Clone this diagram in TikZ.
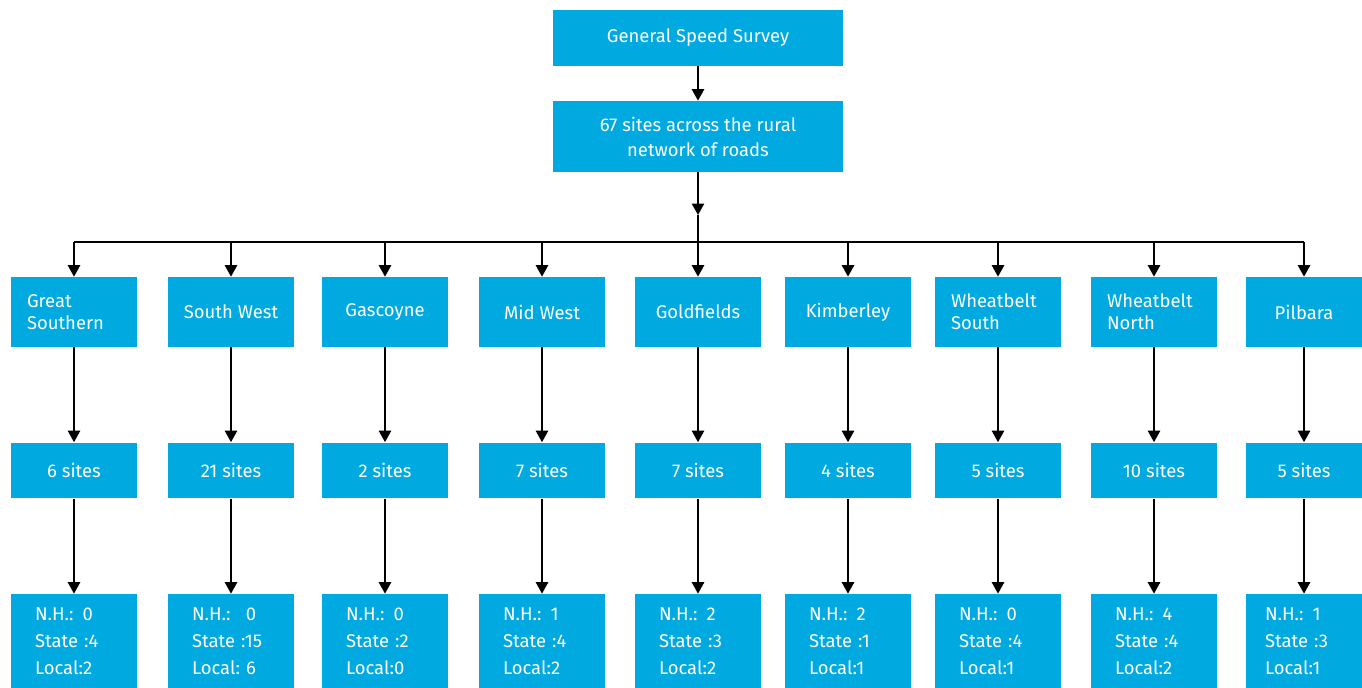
\documentclass[tikz,border=0pt]{standalone}
\usepackage{fontspec}
\setmainfont{Fira Sans}
\usetikzlibrary{arrows.meta}
\definecolor{boxblue}{RGB}{0,169,224}

\begin{document}
\begin{tikzpicture}
[
    x=0.02cm, y=-0.02cm,
    box/.style={fill=boxblue, text=white, inner sep=0pt, align=center,
        font=\fontsize{10.5}{12.5}\selectfont},
    cbox/.style={},
    lbox/.style={align=left, text width=1.88cm},
    sbox/.style={align=left, text width=1.56cm, font=\fontsize{10.5}{15.3}\selectfont},
    line/.style={draw=black, line width=0.8pt},
    arr/.style={line, -{Triangle[width=7pt, length=6.5pt]}},
]
\useasboundingbox (0,0) rectangle (1362,688);
\node [box, minimum width=5.82cm, minimum height=1.12cm] (survey) at (698,38)
{General Speed Survey};
\node [box, minimum width=5.82cm, minimum height=1.42cm,
    font=\fontsize{10.5}{14.2}\selectfont] (sites) at (698,136.5)
{67 sites across the rural\\network of roads};
\coordinate (mid) at (698,215);
\coordinate (bar) at (698,242);
\draw [arr] (survey) -- (sites);
\draw [arr] (sites) -- (mid);
\draw [line] (mid) -- (bar);
\foreach \i/\cx/\w/\reg/\opt/\ns/\nh/\st/\lo in {
    1/74/126/{Great\\Southern}/lbox/6/0/4/2,
    2/231/126/South West/cbox/21/{\ 0}/15/{\ 6},
    3/385/126/Gascoyne/cbox/2/0/2/0,
    4/542/126/Mid West/cbox/7/1/4/2,
    5/698/126/Goldfields/cbox/7/2/3/2,
    6/848/126/Kimberley/cbox/4/2/1/1,
    7/998/126/{Wheatbelt\\South}/lbox/5/0/4/1,
    8/1154/126/{Wheatbelt\\North}/lbox/10/4/4/2,
    9/1304/116/Pilbara/cbox/5/1/3/1}
{
    \node [box, \opt, minimum width=\w*0.02cm, minimum height=1.4cm] (reg\i) at (\cx,312) {\reg};
    \node [box, minimum width=\w*0.02cm, minimum height=1.12cm] (num\i) at (\cx,470.5) {\ns\ sites};
    \node [box, sbox, minimum width=\w*0.02cm, minimum height=1.88cm] (cnt\i) at (\cx,641)
    {N.H.: \nh\\State :\st\\Local:\lo\\[-2pt]};
    \draw [arr] (bar -| reg\i.north) -- (reg\i.north);
    \draw [arr] (reg\i) -- (num\i);
    \draw [arr] (num\i) -- (cnt\i);
}
\draw [line] (bar -| reg1.north) -- (bar -| reg9.north);
\end{tikzpicture}
\end{document}
